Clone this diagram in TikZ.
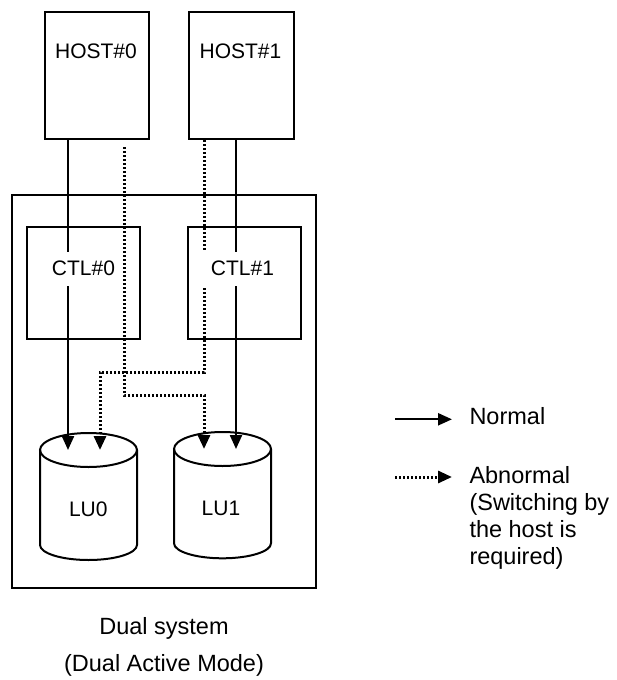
\documentclass[tikz,border=0pt]{standalone}
\usepackage{fontspec}
\setmainfont{Liberation Sans}
\usetikzlibrary{arrows.meta}
\begin{document}
\begin{tikzpicture}[x=1pt,y=-1pt,
  box/.style={draw, line width=2pt, inner sep=0pt},
  lbl/.style={font=\fontsize{21}{25}\selectfont, inner sep=0pt},
  big/.style={font=\fontsize{23.5}{27}\selectfont, inner sep=0pt},
  tip/.style={-{Triangle[length=14pt,width=12pt]}},
  normal/.style={line width=2.3pt, tip},
  abn/.style={line width=3pt, dash pattern=on 2.2pt off 1.8pt, tip},
  disk/.style={line width=2pt}]
\useasboundingbox (0,0) rectangle (616,680);

% boxes
\node[box, minimum width=104pt, minimum height=127pt] (host0) at (97,75.5) {};
\node[box, minimum width=105pt, minimum height=127pt] (host1) at (241.5,75.5) {};
\node[box, minimum width=304pt, minimum height=393pt] (sys) at (164,391.5) {};
\node[box, minimum width=113pt, minimum height=112pt] (ctl0) at (83.5,283) {};
\node[box, minimum width=113pt, minimum height=112pt] (ctl1) at (244.5,283) {};

% disks
\draw[disk] (88.5,450) ellipse [x radius=48.5pt, y radius=17pt];
\draw[disk] (40,450) -- (40,545) arc[start angle=180, end angle=360, x radius=48.5pt, y radius=15pt] -- (137,450);
\draw[disk] (222.5,449) ellipse [x radius=48.5pt, y radius=17pt];
\draw[disk] (174,449) -- (174,543.3) arc[start angle=180, end angle=360, x radius=48.5pt, y radius=15pt] -- (271,449);

% connector end points
\coordinate (a0) at (68,450);
\coordinate (a1) at (100,450);
\coordinate (b0) at (204,449);
\coordinate (b1) at (236,449);
\coordinate (d0s) at (124,147);

% connectors
\draw[normal] (host0.south -| a0) -- (a0);
\draw[normal] (host1.south -| b1) -- (b1);
\draw[abn] (d0s) -- (124,395) -| (b0);
\draw[abn] (host1.south -| b0) -- (204,372) -| (a1);

% labels
\node[lbl] (host0t) at (96,51.3) {HOST\#0};
\node[lbl] (host1t) at (240.5,51.3) {HOST\#1};
\node[lbl, fill=white, minimum width=76pt, minimum height=34pt] (ctl0t) at (83.5,268.5) {CTL\#0};
\node[lbl, fill=white, minimum width=82pt, minimum height=34pt] (ctl1t) at (242.5,268.5) {CTL\#1};
\node[lbl] (lu0) at (88.3,508.8) {LU0};
\node[lbl] (lu1) at (221,508.8) {LU1};

% legend
\coordinate (n0) at (395,419.3);
\coordinate (n1) at (452,419.3);
\coordinate (m0) at (395,477);
\coordinate (m1) at (452,477);
\draw[normal] (n0) -- (n1);
\draw[abn] (m0) -- (m1);
\node[big, anchor=base west] (normaltxt) at (469.3,424.3) {Normal};
\node[big, anchor=north west, align=left] (abntxt) at (469.3,466.5) {Abnormal\\(Switching by\\the host is\\required)};

% caption
\node[big, anchor=base] (cap1) at (164,634.3) {Dual system};
\node[big, anchor=base] (cap2) at (164,671.7) {(Dual Active Mode)};
\end{tikzpicture}
\end{document}
